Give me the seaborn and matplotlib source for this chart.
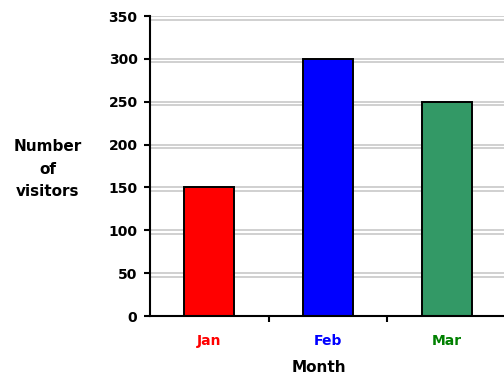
import matplotlib
matplotlib.use("Agg")
import matplotlib.pyplot as plt
import matplotlib.patheffects as pe
import seaborn as sns

months = ["Jan", "Feb", "Mar"]
visitors = [150, 300, 250]
bar_colors = ["#ff0000", "#0000ff", "#339966"]
label_colors = ["#ff0000", "#0000ff", "#008000"]
y_ticks = [0, 50, 100, 150, 200, 250, 300, 350]

sns.set_theme(style="white")
plt.rcParams["font.family"] = ["DejaVu Sans"]

fig = plt.figure(figsize=(5.04, 3.77), dpi=100)
ax = fig.add_axes([150 / 504, 1 - 316 / 377, 356 / 504, 300 / 377])

sns.barplot(x=months, y=visitors, hue=months, palette=bar_colors, legend=False,
            width=0.42, edgecolor="black", linewidth=1.4, saturation=1, ax=ax)

ax.set_xlim(-0.5, 2.5)
ax.set_ylim(0, 350)
ax.set_yticks(y_ticks)
ax.set_yticklabels([str(v) for v in y_ticks], fontsize=10, fontweight="bold")

# gray double-ruled gridlines behind the bars
ax.set_axisbelow(True)
ax.yaxis.grid(True, color="#c4c4c4", linewidth=1.1,
              path_effects=[pe.SimpleLineShadow(offset=(0, -2.6), shadow_color="#c4c4c4",
                                                alpha=1.0), pe.Normal()])
ax.xaxis.grid(False)

# category labels sit at bar centers, tick marks at the boundaries between them
ax.set_xticks(range(len(months)))
ax.set_xticklabels(months, fontsize=10, fontweight="bold")
for lbl, c in zip(ax.get_xticklabels(), label_colors):
    lbl.set_color(c)
ax.tick_params(axis="x", which="major", length=0, pad=13)
ax.set_xticks([0.5, 1.5], minor=True)
ax.tick_params(axis="x", which="minor", bottom=True, length=4, width=1.5, color="black")
ax.tick_params(axis="y", left=True, length=4, width=1.5, color="black", pad=5,
               labelcolor="black")

for side in ["top", "right"]:
    ax.spines[side].set_visible(False)
for side in ["left", "bottom"]:
    ax.spines[side].set_visible(True)
    ax.spines[side].set_color("black")
    ax.spines[side].set_linewidth(1.5)

ax.set_xlabel("Month", fontsize=11, fontweight="bold", color="black", va="center")
ax.xaxis.set_label_coords((319 - 150) / 356, (316 - 368) / 300)
ax.set_ylabel("Number\nof\nvisitors", fontsize=11, fontweight="bold", color="black",
              rotation=0, ha="center", va="center", multialignment="center",
              linespacing=1.6)
ax.yaxis.set_label_coords((48 - 150) / 356, (316 - 169) / 300)

fig.savefig("out.png", dpi=100)
